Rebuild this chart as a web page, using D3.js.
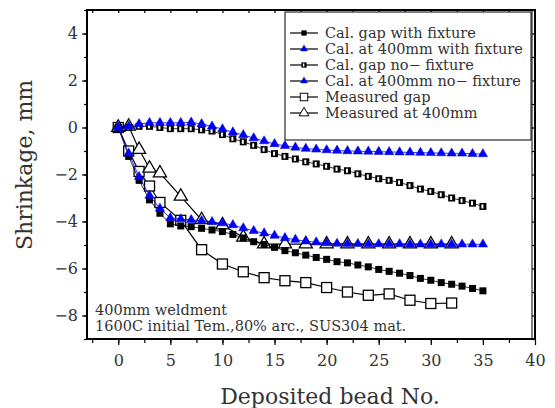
<!DOCTYPE html>
<html>
<head>
  <script src="https://d3js.org/d3.v7.min.js"></script>
  <style>
    body { margin: 0; background: #fff; }
    text { font-family: "DejaVu Serif", "Liberation Serif", serif; fill: #333; }
  </style>
</head>
<body>
<svg id="chart" width="555" height="408"></svg>
<script>
// ---- data ----
const calBeads = [0,1,2,3,4,5,6,7,8,9,10,11,12,13,14,15,16,17,18,19,20,21,22,23,24,25,26,27,28,29,30,31,32,33,34,35];
const gapWithFixture = [0,-1.23,-2.25,-3.08,-3.65,-4.1,-4.19,-4.22,-4.29,-4.36,-4.43,-4.55,-4.7,-4.86,-4.98,-5.1,-5.24,-5.33,-5.43,-5.53,-5.61,-5.71,-5.76,-5.85,-5.93,-6.04,-6.12,-6.2,-6.3,-6.42,-6.5,-6.6,-6.67,-6.75,-6.85,-6.95];
const at400WithFixture = [0,-1.1,-2.1,-2.9,-3.45,-3.85,-3.9,-3.93,-3.97,-4.02,-4.07,-4.15,-4.28,-4.4,-4.5,-4.6,-4.7,-4.77,-4.84,-4.88,-4.92,-4.94,-4.95,-4.95,-4.96,-4.96,-4.96,-4.96,-4.97,-4.97,-4.97,-4.97,-4.97,-4.97,-4.97,-4.97];
const gapNoFixture = [0,0,0.05,0.05,0,-0.05,-0.05,-0.05,-0.1,-0.15,-0.3,-0.48,-0.61,-0.76,-0.94,-1.11,-1.23,-1.34,-1.46,-1.55,-1.65,-1.77,-1.84,-1.97,-2.08,-2.18,-2.25,-2.34,-2.47,-2.62,-2.72,-2.86,-3.0,-3.11,-3.22,-3.36];
const at400NoFixture = [0,0.05,0.15,0.2,0.2,0.2,0.2,0.22,0.15,0.05,-0.07,-0.2,-0.32,-0.45,-0.58,-0.7,-0.78,-0.85,-0.9,-0.93,-0.96,-0.98,-1.0,-1.01,-1.02,-1.03,-1.04,-1.05,-1.06,-1.07,-1.08,-1.09,-1.1,-1.1,-1.12,-1.13];

const measBeads = [0,1,2,3,4,6,8,10,12,14,16,18,20,22,24,26,28,30,32];
const measuredGap = [0,-1.0,-1.87,-2.49,-3.19,-3.95,-5.2,-5.81,-6.14,-6.39,-6.52,-6.6,-6.81,-7.0,-7.14,-7.08,-7.35,-7.49,-7.47];
const measured400 = [0,0.05,-0.94,-1.74,-1.94,-2.93,-3.93,-4.15,-4.67,-4.96,-4.96,-4.96,-4.96,-4.96,-4.96,-4.96,-4.96,-4.96,-4.96];

const xTicks = [0,5,10,15,20,25,30,35,40];
const yTicks = [-8,-6,-4,-2,0,2,4];
const legendLabels = ["Cal. gap with fixture","Cal. at 400mm with fixture","Cal. gap no\u2212 fixture",
                      "Cal. at 400mm no\u2212 fixture","Measured gap","Measured at 400mm"];
const noteLines = ["400mm weldment","1600C initial Tem.,80% arc., SUS304 mat."];

// ---- layout ----
let svg = d3.select("#chart");
let margin = {top: 10, right: 20, bottom: 69, left: 87};
let width = 555 - margin.left - margin.right;
let height = 408 - margin.top - margin.bottom;

let x = d3.scaleLinear().domain([-3, 40]).range([0, width]);
let y = d3.scaleLinear().domain([-9, 5]).range([height, 0]);

let chart = svg.append("g").attr("transform", `translate(${margin.left},${margin.top})`);

// axes
const fmt = d => d < 0 ? "\u2212" + Math.abs(d) : d;
let xMinor = chart.append("g").attr("transform", `translate(0,${height})`)
  .call(d3.axisBottom(x).tickValues(d3.range(-2.5, 40, 2.5)).tickSize(4).tickFormat(""));
let xAxis = chart.append("g").attr("transform", `translate(0,${height})`)
  .call(d3.axisBottom(x).tickValues(xTicks).tickSize(6).tickPadding(10).tickFormat(fmt));
let yMinor = chart.append("g")
  .call(d3.axisLeft(y).tickValues(d3.range(-9, 6, 1)).tickSize(3).tickFormat(""));
let yAxis = chart.append("g")
  .call(d3.axisLeft(y).tickValues(yTicks).tickSize(5).tickPadding(4).tickFormat(fmt));
let xTop = chart.append("g")
  .call(d3.axisBottom(x).tickValues(d3.range(-2.5, 40, 2.5)).tickSize(3).tickFormat(""));
let yRight = chart.append("g").attr("transform", `translate(${width},0)`)
  .call(d3.axisLeft(y).tickValues(d3.range(-9, 6, 1)).tickSize(3).tickFormat(""));

[xMinor, xAxis, yMinor, yAxis, xTop, yRight].forEach(g => {
  g.select(".domain").remove();
  g.selectAll("line").attr("stroke", "#000").attr("stroke-width", 1.2);
  g.selectAll("text").style("font-size", "16px").attr("fill", "#444");
});

// frame
chart.append("rect").attr("width", width).attr("height", height)
  .attr("fill", "none").attr("stroke", "#000").attr("stroke-width", 2);
chart.append("line").attr("x1", width - 3).attr("x2", width - 3).attr("y1", 0).attr("y2", height)
  .attr("stroke", "#000").attr("stroke-width", 1);

// ---- series ----
function drawLine(xs, ys, color, w) {
  const pts = xs.map((v, i) => [v, ys[i]]);
  chart.append("path").datum(pts)
    .attr("fill", "none").attr("stroke", color).attr("stroke-width", w)
    .attr("d", d3.line().x(d => x(d[0])).y(d => y(d[1])));
  return pts;
}

const tri = (s) => d3.symbol().type(d3.symbolTriangle).size(s);

function marker(g, kind) {
  if (kind === "filledSq") {
    g.append("rect").attr("x", -3.5).attr("y", -3.5).attr("width", 7).attr("height", 7).attr("fill", "#000");
  } else if (kind === "halfSq") {
    g.append("rect").attr("x", -3.5).attr("y", -3.5).attr("width", 7).attr("height", 7).attr("fill", "#000");
    g.append("rect").attr("x", -1.5).attr("y", -2).attr("width", 2).attr("height", 4).attr("fill", "#fff");
  } else if (kind === "blueTri") {
    g.append("path").attr("d", tri(38)()).attr("fill", "#0000ff").attr("stroke", "#0000cc").attr("stroke-width", 0.5);
  } else if (kind === "openSq") {
    g.append("rect").attr("x", -5).attr("y", -5).attr("width", 10).attr("height", 10)
      .attr("fill", "#fff").attr("stroke", "#000").attr("stroke-width", 1.3);
  } else if (kind === "openTri") {
    g.append("path").attr("d", tri(75)()).attr("fill", "#fff").attr("stroke", "#000").attr("stroke-width", 1.3);
  }
}

function drawSeries(xs, ys, kind, lineColor, lw) {
  const pts = drawLine(xs, ys, lineColor, lw);
  chart.append("g").selectAll("g").data(pts).enter().append("g")
    .attr("transform", d => `translate(${x(d[0])},${y(d[1])})`)
    .each(function () { marker(d3.select(this), kind); });
}

drawSeries(measBeads, measuredGap, "openSq", "#000", 1.2);
drawSeries(measBeads, measured400, "openTri", "#000", 1.2);
drawSeries(calBeads, gapWithFixture, "filledSq", "#000", 0.8);
drawSeries(calBeads, gapNoFixture, "halfSq", "#000", 0.8);
drawSeries(calBeads, at400WithFixture, "blueTri", "#0000ff", 0.8);
drawSeries(calBeads, at400NoFixture, "blueTri", "#0000ff", 0.8);

// ---- legend ----
const kinds = ["filledSq", "blueTri", "halfSq", "blueTri", "openSq", "openTri"];
let legend = svg.append("g").attr("transform", "translate(285,12)");
legend.append("rect").attr("width", 246).attr("height", 128)
  .attr("fill", "#fff").attr("stroke", "#000").attr("stroke-width", 1);
legendLabels.forEach((lab, i) => {
  let row = legend.append("g").attr("transform", `translate(0,${21 + i * 16})`);
  row.append("line").attr("x1", 5).attr("x2", 33).attr("stroke", "#000").attr("stroke-width", 1.2);
  let m = row.append("g").attr("transform", "translate(19,0) scale(0.75)");
  marker(m, kinds[i]);
  row.append("text").attr("x", 40).attr("y", 5).style("font-size", "14.5px").text(lab);
});

// ---- note ----
noteLines.forEach((t, i) => {
  svg.append("text").attr("x", 95).attr("y", 315 + i * 16)
    .style("font-size", "14.5px").attr("fill", "#444").text(t);
});

// ---- axis titles ----
svg.append("text").attr("x", 330).attr("y", 404).attr("text-anchor", "middle")
  .style("font-size", "22px").attr("fill", "#444").text("Deposited bead No.");
svg.append("text").attr("transform", "translate(32,165) rotate(-90)").attr("text-anchor", "middle")
  .style("font-size", "22px").attr("fill", "#444").text("Shrinkage, mm");
</script>
</body>
</html>
